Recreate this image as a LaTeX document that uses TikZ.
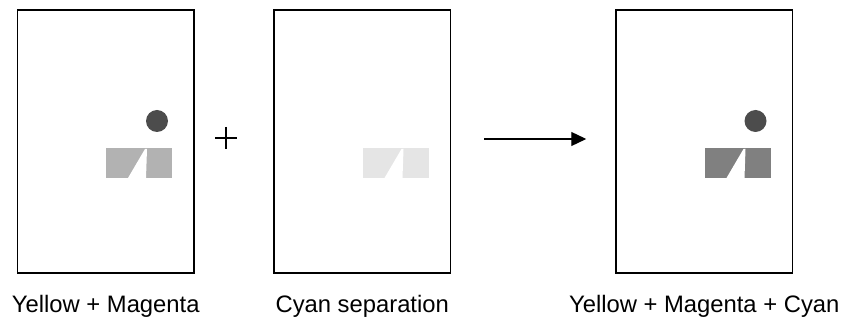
\documentclass[tikz,border=0pt]{standalone}
\usepackage{fontspec}
\setmainfont{Liberation Sans}
\usetikzlibrary{arrows.meta}

\begin{document}
\begin{tikzpicture}[x=1pt, y=-1pt,
        sheet/.style={draw, line width=1.5pt, minimum width=176.5pt,
          minimum height=263pt, inner sep=0pt},
        lbl/.style={anchor=base, inner sep=0pt,
          font=\fontsize{23.8}{28}\selectfont},
        dot/.style={fill=black!70},
        cut/.style={fill=white}]
      \useasboundingbox (0,0) rectangle (844,320);

      % yellow + magenta
      \begin{scope}[xshift=17.5pt, yshift=-10pt]
        \node[sheet] (ym) at (88.25,131.5) {};
        \fill[black!30] (88.5,138) rectangle (154.5,168);
        \fill[cut] (110.5,168) -- (127.5,139) -- (129.5,139) -- (128.5,168) -- cycle;
        \fill[dot] (139.5,111) circle[radius=11];
        \node[lbl] (ymlbl) at (88.25,303) {Yellow + Magenta};
      \end{scope}

      \draw[line width=1.3pt] (215,138) -- (237,138) (226,127) -- (226,149);

      % cyan separation
      \begin{scope}[xshift=274pt, yshift=-10pt]
        \node[sheet] (cs) at (88.25,131.5) {};
        \fill[black!10] (88.5,138) rectangle (154.5,168);
        \fill[cut] (110.5,168) -- (127.5,139) -- (129.5,139) -- (128.5,168) -- cycle;
        \node[lbl] (cslbl) at (88.25,303) {Cyan separation};
      \end{scope}

      % yellow + magenta + cyan
      \begin{scope}[xshift=616pt, yshift=-10pt]
        \node[sheet] (ymc) at (88.25,131.5) {};
        \fill[black!50] (88.5,138) rectangle (154.5,168);
        \fill[cut] (110.5,168) -- (127.5,139) -- (129.5,139) -- (128.5,168) -- cycle;
        \fill[dot] (139.5,111) circle[radius=11];
        \node[lbl] (ymclbl) at (88.25,303) {Yellow + Magenta + Cyan};
      \end{scope}

      \draw[line width=1.3pt, -{Triangle[length=15pt, width=14pt]}]
        ([xshift=33pt, yshift=2.5pt]cs.east) -- ([xshift=-29pt, yshift=2.5pt]ymc.west);
    \end{tikzpicture}
\end{document}
